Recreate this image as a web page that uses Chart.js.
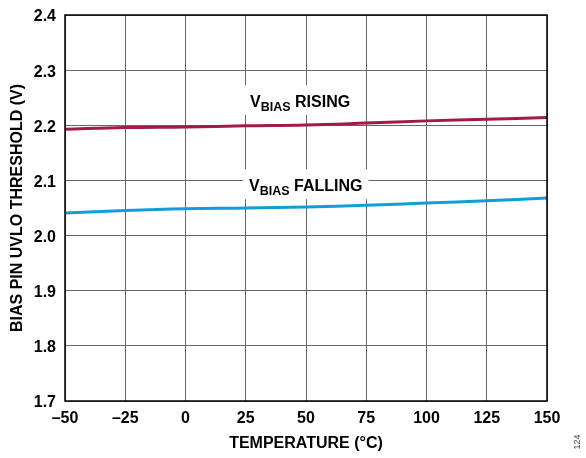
<!DOCTYPE html>
<html>
<head>
<meta charset="utf-8">
<script src="https://cdn.jsdelivr.net/npm/chart.js@4/dist/chart.umd.min.js"></script>
<style>
  html, body { margin: 0; padding: 0; background: #fff; }
  #wrap { width: 586px; height: 458px; position: relative; }
</style>
</head>
<body>
<div id="wrap"><canvas id="chart"></canvas></div>
<script>
const temps = [-50, -25, 0, 25, 50, 75, 100, 125, 150];
const rising = [2.193, 2.196, 2.197, 2.199, 2.2005, 2.204, 2.208, 2.211, 2.214];
const falling = [2.041, 2.0456, 2.0487, 2.050, 2.0517, 2.055, 2.059, 2.063, 2.068];
const yTicks = [1.7, 1.8, 1.9, 2.0, 2.1, 2.2, 2.3, 2.4];

const FONT = '"Liberation Sans", Arial, sans-serif';

// curve labels: text start (x) and baseline (y) in data units
const notes = [
  { main: 'V', sub: 'BIAS', rest: ' RISING', x: 26.8, y: 2.233 },
  { main: 'V', sub: 'BIAS', rest: ' FALLING', x: 26.4, y: 2.0803 }
];

const overlay = {
  id: 'overlay',
  afterDatasetsDraw(chart) {
    const ctx = chart.ctx;
    const xs = chart.scales.x, ys = chart.scales.y;
    ctx.save();
    notes.forEach(n => {
      const x0 = xs.getPixelForValue(n.x);
      const yb = ys.getPixelForValue(n.y);
      ctx.font = 'bold 16px ' + FONT;
      const wV = ctx.measureText(n.main).width;
      const wR = ctx.measureText(n.rest).width;
      ctx.font = 'bold 12.5px ' + FONT;
      const wS = ctx.measureText(n.sub).width;
      const total = wV + wS + wR;
      ctx.fillStyle = '#fff';
      ctx.fillRect(x0 - 6, yb - 22, total + 12, 30);
      ctx.fillStyle = '#000';
      ctx.textBaseline = 'alphabetic';
      ctx.textAlign = 'left';
      ctx.font = 'bold 16px ' + FONT;
      ctx.fillText(n.main, x0, yb);
      ctx.font = 'bold 12.5px ' + FONT;
      ctx.fillText(n.sub, x0 + wV, yb + 4);
      ctx.font = 'bold 16px ' + FONT;
      ctx.fillText(n.rest, x0 + wV + wS, yb);
    });
    ctx.restore();
  },
  afterDraw(chart) {
    const ctx = chart.ctx;
    const area = chart.chartArea;
    ctx.save();
    ctx.strokeStyle = '#000';
    ctx.lineWidth = 1.5;
    ctx.strokeRect(area.left, area.top, area.right - area.left, area.bottom - area.top);
    ctx.fillStyle = '#000';
    ctx.font = 'bold 16px ' + FONT;
    ctx.textAlign = 'center';
    ctx.textBaseline = 'middle';
    ctx.fillText('TEMPERATURE (°C)', (area.left + area.right) / 2, 444);
    ctx.translate(18, (area.top + area.bottom) / 2);
    ctx.rotate(-Math.PI / 2);
    ctx.fillText('BIAS PIN UVLO THRESHOLD (V)', 0, 0);
    ctx.restore();
    ctx.save();
    ctx.fillStyle = '#444';
    ctx.font = '9px ' + FONT;
    ctx.translate(578, 442);
    ctx.rotate(-Math.PI / 2);
    ctx.textAlign = 'center';
    ctx.textBaseline = 'middle';
    ctx.fillText('124', 0, 0);
    ctx.restore();
  }
};

new Chart(document.getElementById('chart'), {
  type: 'line',
  data: {
    datasets: [
      {
        label: 'VBIAS RISING',
        data: temps.map((t, i) => ({ x: t, y: rising[i] })),
        borderColor: '#a01c44',
        borderWidth: 3,
        pointRadius: 0,
        tension: 0.4
      },
      {
        label: 'VBIAS FALLING',
        data: temps.map((t, i) => ({ x: t, y: falling[i] })),
        borderColor: '#0f9fd6',
        borderWidth: 3,
        pointRadius: 0,
        tension: 0.4
      }
    ]
  },
  options: {
    responsive: true,
    maintainAspectRatio: false,
    animation: false,
    layout: { padding: { top: 15, right: 39, left: 0, bottom: 0 } },
    plugins: { legend: { display: false }, tooltip: { enabled: false } },
    scales: {
      x: {
        type: 'linear',
        min: -50,
        max: 150,
        afterFit: s => { s.height = 57; s.paddingLeft = 0; s.paddingRight = 0; },
        afterBuildTicks: s => { s.ticks = temps.map(v => ({ value: v })); },
        ticks: {
          color: '#000',
          font: { family: FONT, size: 16, weight: 'bold' },
          padding: 8,
          maxRotation: 0,
          callback: v => String(v).replace('-', '–')
        },
        grid: { color: '#666', lineWidth: 1, drawTicks: false },
        border: { display: false }
      },
      y: {
        min: 1.7,
        max: 2.4,
        afterFit: s => { s.width = 65; s.paddingTop = 0; s.paddingBottom = 0; },
        afterBuildTicks: s => { s.ticks = yTicks.map(v => ({ value: v })); },
        ticks: {
          color: '#000',
          font: { family: FONT, size: 16, weight: 'bold' },
          padding: 9,
          labelOffset: 2,
          callback: v => v.toFixed(1)
        },
        grid: { color: '#666', lineWidth: 1, drawTicks: false },
        border: { display: false }
      }
    }
  },
  plugins: [overlay]
});
</script>
</body>
</html>
